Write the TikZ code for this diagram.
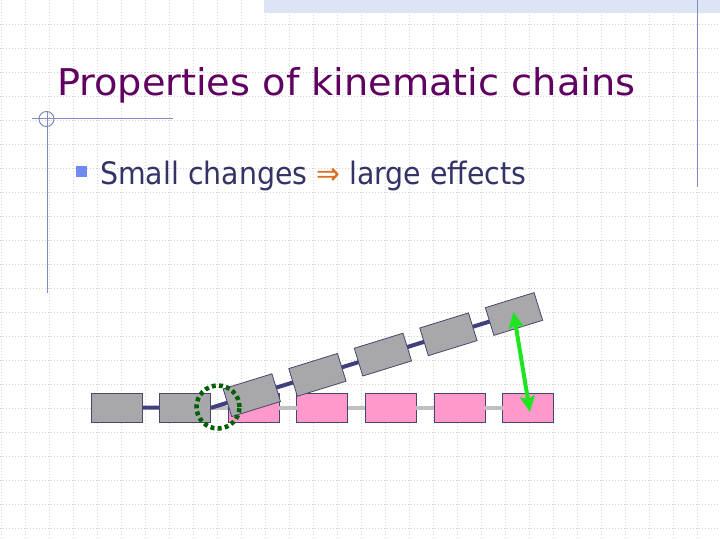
\documentclass[tikz,border=0pt]{standalone}
\usepackage{fontspec}
\usepackage{graphicx}
\usetikzlibrary{arrows.meta}
\newfontfamily\slidefont{DejaVu Sans Condensed}
\definecolor{titlecol}{RGB}{96,0,96}
\definecolor{textcol}{RGB}{51,51,102}
\definecolor{arrowcol}{RGB}{220,110,30}
\definecolor{bulletcol}{RGB}{110,140,240}
\definecolor{rulecol}{RGB}{125,140,195}
\definecolor{bandcol}{RGB}{220,228,246}
\definecolor{gridcol}{RGB}{210,210,215}
\definecolor{boxedge}{RGB}{70,70,110}
\definecolor{grayfill}{RGB}{168,168,170}
\definecolor{pinkfill}{RGB}{255,153,204}
\definecolor{darkbar}{RGB}{64,64,125}
\definecolor{lightbar}{RGB}{192,192,192}
\definecolor{circcol}{RGB}{0,95,0}
\definecolor{greenarrow}{RGB}{30,230,30}
\tikzset{
  linkbox/.style={draw=boxedge, line width=0.8pt, minimum width=51pt, minimum height=29pt, inner sep=0pt, outer sep=0pt},
  graylink/.style={linkbox, fill=grayfill},
  pinklink/.style={linkbox, fill=pinkfill},
  darkjoint/.style={draw=darkbar, line width=4pt},
  lightjoint/.style={draw=lightbar, line width=4pt},
  gridline/.style={draw=gridcol, line width=0.7pt, dash pattern=on 1pt off 2pt},
  slideline/.style={draw=rulecol, line width=1pt}
}
\begin{document}
\begin{tikzpicture}[x=1pt,y=-1pt]
\useasboundingbox (0,0) rectangle (720,540);
\fill[white] (0,0) rectangle (720,540);
% grid
\foreach \i in {0,...,30} { \draw[gridline] ({1+24*\i},0) -- ({1+24*\i},540); }
\foreach \j in {1,...,22} { \draw[gridline] (0,{24*\j}) -- (720,{24*\j}); }
% top band and rules
\fill[bandcol] (264,0) rectangle (720,13);
\draw[slideline] (697,0) -- (697,187);
\draw[slideline] (32,119) -- (173,119);
\draw[slideline] (47,112) -- (47,293);
\draw[slideline] (46.5,119) circle (7.5);
% texts
\node[anchor=base west, inner sep=0pt, text=titlecol] (title) at (57,96)
  {\resizebox{578pt}{28pt}{\slidefont Properties of kinematic chains}};
\node[fill=bulletcol, minimum size=11pt, inner sep=0pt] (bullet) at (81.5,171.5) {};
\node[anchor=base west, inner sep=0pt, text=textcol] (point) at (100,185)
  {\resizebox{426pt}{23.5pt}{\slidefont Small changes \textcolor{arrowcol}{⇒} large effects}};
% chain
\coordinate (P) at (212,407.5);
\node[pinklink] (b3) at (253.7,407.5) {};
\node[pinklink] (b4) at (322.3,407.5) {};
\node[pinklink] (b5) at (390.9,407.5) {};
\node[pinklink] (b6) at (459.5,407.5) {};
\node[pinklink] (b7) at (528.1,407.5) {};
\draw[lightjoint] (P) -- (b3.west);
\draw[lightjoint] (b3.east) -- (b4.west);
\draw[lightjoint] (b4.east) -- (b5.west);
\draw[lightjoint] (b5.east) -- (b6.west);
\draw[lightjoint] (b6.east) -- (b7.west);
\coordinate (c1) at (116.5,407.5);
\coordinate (c2) at (185.1,407.5);
\coordinate (c3) at (251.8,395.2);
\coordinate (c4) at (317.4,374.9);
\coordinate (c5) at (382.9,354.6);
\coordinate (c6) at (448.4,334.3);
\coordinate (c7) at (514.0,314.0);
\draw[darkjoint] (c1) -- (c2) -- (P) -- (c3) -- (c4) -- (c5) -- (c6) -- (c7);
\node[graylink] (b1) at (c1) {};
\node[graylink] (b2) at (c2) {};
\node[graylink, rotate=17.2] (r3) at (c3) {};
\node[graylink, rotate=17.2] (r4) at (c4) {};
\node[graylink, rotate=17.2] (r5) at (c5) {};
\node[graylink, rotate=17.2] (r6) at (c6) {};
\node[graylink, rotate=17.2] (r7) at (c7) {};
% joint highlight
\node[draw=circcol, circle, line width=4.5pt, dash pattern=on 4pt off 3.2pt, minimum size=43pt, inner sep=0pt] (joint) at (218,407) {};
% displacement arrow
\coordinate (gtop) at (513.5,312);
\coordinate (gbot) at (530,412);
\draw[greenarrow, line width=4pt, {Stealth[length=16pt,width=15pt,inset=3pt]}-{Stealth[length=16pt,width=15pt,inset=3pt]}] (gtop) -- (gbot);
\end{tikzpicture}
\end{document}
